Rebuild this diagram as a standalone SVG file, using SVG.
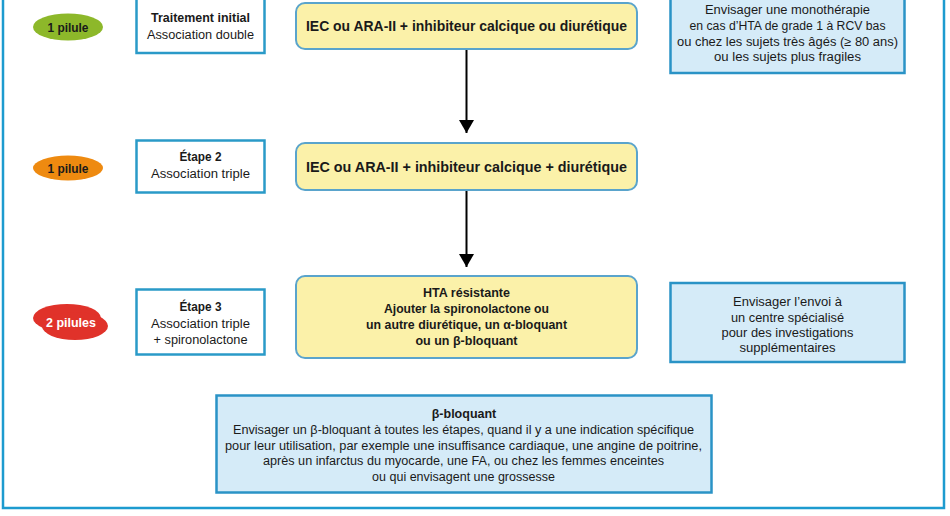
<svg xmlns="http://www.w3.org/2000/svg" width="950" height="516" viewBox="0 0 950 516">
<defs>
<style>
text{font-family:"Liberation Sans",Arial,sans-serif;text-anchor:middle;fill:#1a1a1a}
.r{font-size:12.5px}
.bl{font-size:12.5px;font-weight:bold}
.big{font-size:14px;font-weight:bold}
.step{fill:#ffffff;stroke:#2a9ac8;stroke-width:2.5}
.yel{fill:#fbf1a9;stroke:#5aa4cc;stroke-width:2}
.info{fill:#d5ebf8;stroke:#2a93c6;stroke-width:2.5}
.conn{stroke:#000;stroke-width:2;fill:none}
</style>
<marker id="ah" viewBox="0 0 13 15" refX="13" refY="7.5" markerWidth="13" markerHeight="15" markerUnits="userSpaceOnUse" orient="auto">
<path d="M0,0 L13,7.5 L0,15 Z" fill="#000"/>
</marker>
</defs>
<rect x="0" y="0" width="950" height="516" fill="#ffffff"/>
<path d="M3,0 V508 H944 V0" fill="none" stroke="#1d9bcf" stroke-width="2.5"/>

<g id="connectors">
<line class="conn" x1="466.5" y1="49" x2="466.5" y2="133" marker-end="url(#ah)"/>
<line class="conn" x1="466.5" y1="190" x2="466.5" y2="267" marker-end="url(#ah)"/>
</g>

<g id="pill1">
<ellipse cx="68" cy="27" rx="35" ry="13.5" fill="#8db82a"/>
<text class="bl" x="68" y="31.5" textLength="41" lengthAdjust="spacingAndGlyphs">1 pilule</text>
</g>
<g id="step1">
<rect class="step" x="136.5" y="-2" width="128" height="55"/>
<text class="bl" x="200.5" y="22" textLength="99" lengthAdjust="spacingAndGlyphs">Traitement initial</text>
<text class="r" x="200.5" y="39" textLength="107" lengthAdjust="spacingAndGlyphs">Association double</text>
</g>
<g id="yellow1">
<rect class="yel" x="296" y="3" width="341" height="46" rx="9"/>
<text class="big" x="466.5" y="31" textLength="321" lengthAdjust="spacingAndGlyphs">IEC ou ARA-II + inhibiteur calcique ou diurétique</text>
</g>
<g id="info1">
<rect class="info" x="670.5" y="-2" width="234" height="75"/>
<text class="r" x="787.5" y="14" textLength="165" lengthAdjust="spacingAndGlyphs">Envisager une monothérapie</text>
<text class="r" x="787.5" y="30" textLength="196" lengthAdjust="spacingAndGlyphs">en cas d’HTA de grade 1 à RCV bas</text>
<text class="r" x="787.5" y="45.5" textLength="221" lengthAdjust="spacingAndGlyphs">ou chez les sujets très âgés (≥ 80 ans)</text>
<text class="r" x="787.5" y="61" textLength="147" lengthAdjust="spacingAndGlyphs">ou les sujets plus fragiles</text>
</g>

<g id="pill2">
<ellipse cx="68" cy="168" rx="35" ry="12.5" fill="#ee8a10"/>
<text class="bl" x="68" y="172.5" textLength="41" lengthAdjust="spacingAndGlyphs">1 pilule</text>
</g>
<g id="step2">
<rect class="step" x="136.5" y="140.5" width="128" height="52"/>
<text class="bl" x="200.5" y="161" textLength="42" lengthAdjust="spacingAndGlyphs">Étape 2</text>
<text class="r" x="200.5" y="177.5" textLength="99" lengthAdjust="spacingAndGlyphs">Association triple</text>
</g>
<g id="yellow2">
<rect class="yel" x="296" y="143" width="341" height="47" rx="9"/>
<text class="big" x="466.5" y="172" textLength="321" lengthAdjust="spacingAndGlyphs">IEC ou ARA-II + inhibiteur calcique + diurétique</text>
</g>

<g id="pill3">
<ellipse cx="67" cy="318" rx="34" ry="14" fill="#e0322a"/>
<ellipse cx="75" cy="326" rx="33" ry="14" fill="#e0322a"/>
<text class="bl" x="71" y="327" textLength="50" lengthAdjust="spacingAndGlyphs" style="fill:#ffffff">2 pilules</text>
</g>
<g id="step3">
<rect class="step" x="136.5" y="289.5" width="128" height="65"/>
<text class="bl" x="200.5" y="311" textLength="42" lengthAdjust="spacingAndGlyphs">Étape 3</text>
<text class="r" x="200.5" y="327.5" textLength="99" lengthAdjust="spacingAndGlyphs">Association triple</text>
<text class="r" x="200.5" y="344" textLength="94" lengthAdjust="spacingAndGlyphs">+ spironolactone</text>
</g>
<g id="yellow3">
<rect class="yel" x="296" y="276" width="341" height="82" rx="9"/>
<text class="bl" x="466.5" y="297" textLength="87" lengthAdjust="spacingAndGlyphs">HTA résistante</text>
<text class="bl" x="466.5" y="312.5" textLength="165" lengthAdjust="spacingAndGlyphs">Ajouter la spironolactone ou</text>
<text class="bl" x="466.5" y="328.5" textLength="201" lengthAdjust="spacingAndGlyphs">un autre diurétique, un α-bloquant</text>
<text class="bl" x="466.5" y="344.5">ou un β-bloquant</text>
</g>
<g id="info2">
<rect class="info" x="670.5" y="283" width="234" height="79"/>
<text class="r" x="787.5" y="306" textLength="109" lengthAdjust="spacingAndGlyphs">Envisager l’envoi à</text>
<text class="r" x="787.5" y="322" textLength="113" lengthAdjust="spacingAndGlyphs">un centre spécialisé</text>
<text class="r" x="787.5" y="337" textLength="132" lengthAdjust="spacingAndGlyphs">pour des investigations</text>
<text class="r" x="787.5" y="352" textLength="96" lengthAdjust="spacingAndGlyphs">supplémentaires</text>
</g>

<g id="beta">
<rect class="info" x="216.5" y="395.5" width="495" height="97"/>
<text class="bl" x="464" y="418">β-bloquant</text>
<text class="r" x="463.5" y="434" textLength="461" lengthAdjust="spacingAndGlyphs">Envisager un β-bloquant à toutes les étapes, quand il y a une indication spécifique</text>
<text class="r" x="463.5" y="449.5" textLength="477" lengthAdjust="spacingAndGlyphs">pour leur utilisation, par exemple une insuffisance cardiaque, une angine de poitrine,</text>
<text class="r" x="463.5" y="465" textLength="401" lengthAdjust="spacingAndGlyphs">après un infarctus du myocarde, une FA, ou chez les femmes enceintes</text>
<text class="r" x="463.5" y="480.5">ou qui envisagent une grossesse</text>
</g>
</svg>
